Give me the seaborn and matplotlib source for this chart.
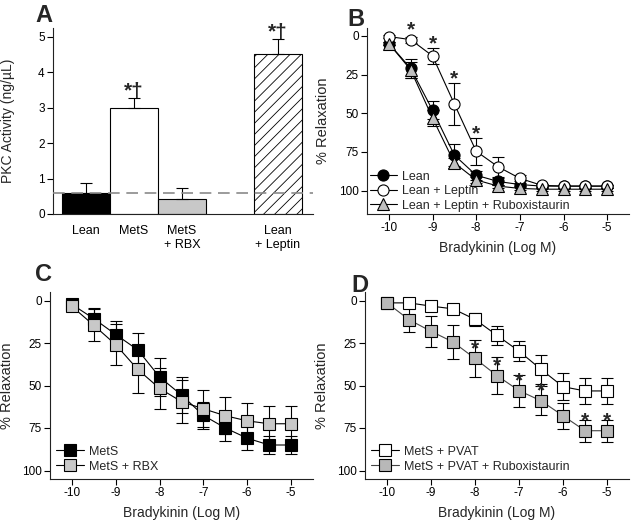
import numpy as np
import pandas as pd
import matplotlib
matplotlib.use("Agg")
import matplotlib.pyplot as plt
import seaborn as sns

# ---------------- data ----------------
# Panel A
bar_labels = ["Lean", "MetS", "MetS\n+ RBX", "Lean\n+ Leptin"]
bar_pos = [0, 1, 2, 4]
pkc_values = [0.59, 2.98, 0.43, 4.53]
pkc_err = [0.28, 0.30, 0.30, 0.42]
lean_ref = 0.59

# Bradykinin concentrations (log M)
conc = [-10, -9.5, -9, -8.5, -8, -7.5, -7, -6.5, -6, -5.5, -5]
conc_ticks = [-10, -9, -8, -7, -6, -5]

# Panel B
lean_b = [5, 21, 48, 77, 90, 94, 96, 97, 97, 97, 97]
lean_b_err = [1, 6, 6, 7, 3, 2, 1, 1, 1, 1, 1]
leptin_b = [0.5, 2.5, 13, 44, 74.5, 84.5, 92, 96.5, 97, 97, 97]
leptin_b_err = [1, 2, 5.2, 13.4, 8.6, 6.4, 2, 1, 1, 1, 1]
rbx_b = [5, 22, 53, 82, 93, 97, 98.5, 99, 99, 99, 99]
rbx_b_err = [1, 5, 5, 3, 2, 1, 1, 1, 1, 1, 1]
stars_b = [-9.5, -9, -8.5, -8]

# Panel C
mets_c = [2.3, 10.7, 20, 29, 45, 55.6, 67.6, 75, 81, 85, 85]
mets_c_err = [1, 6, 8, 10, 11, 10.5, 8, 7.5, 7, 5.5, 5.5]
rbx_c = [3.5, 14.6, 26, 40.5, 51.7, 59.5, 63.7, 67.8, 70.8, 72.5, 72.5]
rbx_c_err = [1, 9.4, 12, 14, 12, 12.5, 11, 11, 10.4, 10.7, 10.7]

# Panel D
pvat_d = [1.4, 1.4, 3.3, 4.9, 11.1, 20.5, 29.8, 40.5, 50.7, 53.2, 53.2]
pvat_d_err = [0, 0, 1.5, 2, 3.8, 5.5, 5.7, 8.4, 7.8, 7.8, 7.8]
rbx_d = [1.4, 11.3, 18.1, 24.4, 34.1, 44.2, 53, 59, 67.8, 76.6, 76.6]
rbx_d_err = [0, 7.2, 9.2, 10.1, 10.7, 11, 9.4, 8.6, 7.6, 6.6, 6.6]
stars_d = [-8, -7.5, -7, -6.5, -5.5, -5]

# ---------------- style ----------------
sns.set_theme(style="ticks")
plt.rcParams["font.family"] = ["Liberation Sans", "DejaVu Sans"]
plt.rcParams["axes.linewidth"] = 0.8
plt.rcParams["hatch.linewidth"] = 0.6

W, H = 633, 528
fig = plt.figure(figsize=(W / 100, H / 100), dpi=100)


def ax_at(l, t, r, b):
    return fig.add_axes([l / W, 1 - b / H, (r - l) / W, (b - t) / H])


axA = ax_at(53, 28, 313, 214)
axB = ax_at(367, 28, 629, 214)
axC = ax_at(50, 292, 313, 479)
axD = ax_at(365, 292, 629, 479)

for ax in (axA, axB, axC, axD):
    sns.despine(ax=ax)
    for s in ("left", "bottom"):
        ax.spines[s].set_color("#222222")
    ax.tick_params(direction="out", length=4, width=0.8, labelsize=8.5,
                   pad=2, colors="black")

# ---------------- Panel A ----------------
dfA = pd.DataFrame({"pos": bar_pos, "val": pkc_values})
sns.barplot(data=dfA, x="pos", y="val", native_scale=True, width=1.0,
            errorbar=None, color="white", edgecolor="black", linewidth=0.8,
            ax=axA)
fills = ["black", "white", "#c8c8c8", "white"]
hatches = [None, None, None, "///"]
for p, fc, h in zip(axA.patches, fills, hatches):
    p.set_facecolor(fc)
    p.set_edgecolor("black")
    if h:
        p.set_hatch(h)
axA.errorbar(bar_pos, pkc_values, yerr=[np.zeros(len(pkc_err)), pkc_err],
             fmt="none", ecolor="black", elinewidth=0.8, capsize=4,
             capthick=0.8, zorder=3)
axA.axhline(lean_ref, color="#8a8a8a", lw=1.2, ls=(0, (7, 4)), zorder=4)
for i in (1, 3):
    axA.text(bar_pos[i], pkc_values[i] + pkc_err[i] + 0.02, "*\u2020",
             ha="center", va="baseline", fontsize=15, fontweight="bold",
             zorder=6)
axA.set_xlim(-0.69, 4.73)
axA.set_ylim(0, 5.25)
axA.set_yticks([0, 1, 2, 3, 4, 5])
axA.set_xticks(bar_pos)
axA.set_xticklabels(bar_labels, fontsize=9)
axA.tick_params(axis="x", length=0, pad=8)
axA.set_xlabel("")
axA.set_ylabel("PKC Activity (ng/\u00b5L)", fontsize=10)
axA.yaxis.set_label_coords(-38 / 260, 0.5)


# ---------------- curve helper ----------------
def curve(ax, y, err, marker, fc, label, ms=8, lc="black"):
    ax.errorbar(conc, y, yerr=err, fmt="none", ecolor="black",
                elinewidth=0.8, capsize=4, capthick=0.8, zorder=1.5)
    sns.lineplot(x=conc, y=y, ax=ax, color=lc, lw=0.8, marker=marker,
                 markersize=ms, markerfacecolor=fc, markeredgecolor="black",
                 markeredgewidth=0.8, label=label, errorbar=None)


def curve_axes(ax, ylim):
    ax.set_xlim(-10.5, -4.5)
    ax.set_ylim(*ylim)
    ax.set_xticks(conc_ticks)
    ax.set_xticklabels([str(t) for t in conc_ticks])
    ax.set_yticks([0, 25, 50, 75, 100])
    ax.set_xlabel("Bradykinin (Log M)", fontsize=10, labelpad=5)
    ax.set_ylabel("% Relaxation", fontsize=10.5)


# ---------------- Panel B ----------------
curve(axB, lean_b, lean_b_err, "o", "black", "Lean")
curve(axB, leptin_b, leptin_b_err, "o", "white", "Lean + Leptin")
curve(axB, rbx_b, rbx_b_err, "^", "#c0c0c0", "Lean + Leptin + Ruboxistaurin",
      ms=9)
for xs in stars_b:
    i = conc.index(xs)
    top = leptin_b[i] - max(leptin_b_err[i], 3.3)
    axB.annotate("*", (xs, top), xytext=(0, 3), textcoords="offset points",
                 ha="center", va="center", fontsize=15, fontweight="bold",
                 zorder=6)
curve_axes(axB, (115, -5))
axB.yaxis.set_label_coords(-37 / 262, 0.5)
axB.legend(loc="lower left", frameon=False, fontsize=9, handlelength=2.2,
           handletextpad=0.4, labelspacing=0.2, borderpad=0.1,
           borderaxespad=0.1)

# ---------------- Panel C ----------------
curve(axC, mets_c, mets_c_err, "s", "black", "MetS")
curve(axC, rbx_c, rbx_c_err, "s", "#c8c8c8", "MetS + RBX")
curve_axes(axC, (105, -5))
axC.yaxis.set_label_coords(-36 / 263, 0.5)
axC.legend(loc="lower left", frameon=False, fontsize=9, handlelength=2.2,
           handletextpad=0.4, labelspacing=0.25, borderpad=0.3,
           borderaxespad=0.2)

# ---------------- Panel D ----------------
curve(axD, pvat_d, pvat_d_err, "s", "white", "MetS + PVAT")
curve(axD, rbx_d, rbx_d_err, "s", "#b8b8b8",
      "MetS + PVAT + Ruboxistaurin", lc="#444444")
for xs in stars_d:
    i = conc.index(xs)
    axD.annotate("*", (xs, rbx_d[i] - 5.8), ha="center", va="center",
                 fontsize=15, fontweight="bold", zorder=6)
curve_axes(axD, (105, -5))
axD.yaxis.set_label_coords(-36 / 264, 0.5)
axD.legend(loc="lower left", frameon=False, fontsize=9, handlelength=2.2,
           handletextpad=0.4, labelspacing=0.25, borderpad=0.3,
           borderaxespad=0.2)

# ---------------- panel letters ----------------
for lbl, x, y in (("A", 35, 4), ("B", 347, 8), ("C", 35, 263), ("D", 351, 274)):
    fig.text(x / W, 1 - y / H, lbl, fontsize=17, fontweight="bold",
             ha="left", va="top")

fig.savefig("out.png", dpi=100)
